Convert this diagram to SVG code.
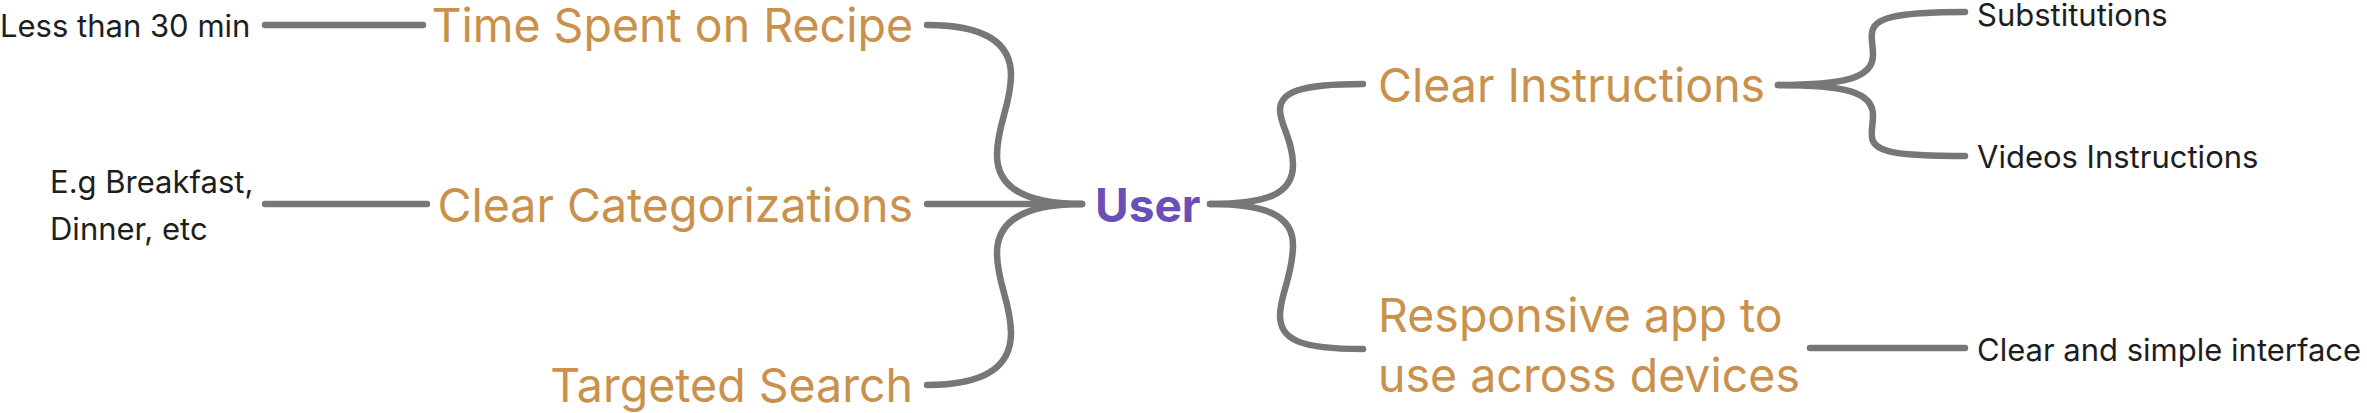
<svg xmlns="http://www.w3.org/2000/svg" width="2367" height="413" viewBox="0 0 2367 413">
<style>
.bg{fill:#ffffff}
.c{fill:none;stroke:#777777;stroke-width:6.5;stroke-linecap:round;stroke-linejoin:round}
.lbl{font-family:Inter,"Liberation Sans",sans-serif;font-size:31px;fill:#1e1e1e}
.mid{font-family:Inter,"Liberation Sans",sans-serif;font-size:46.5px;fill:#c9914b}
.root{font-family:Inter,"Liberation Sans",sans-serif;font-size:46px;font-weight:700;fill:#6a4fb8}
</style>
<rect class="bg" x="0" y="0" width="2367" height="413"/>
<g id="connectors">
<path class="c" d="M265,25 L423,25"/>
<path class="c" d="M265,204 L427,204"/>
<path class="c" d="M927,25 C980,25 1011,40 1011,75 C1011,105 997,125 997,155 C997,190 1030,204 1082,204"/>
<path class="c" d="M927,204 L1082,204"/>
<path class="c" d="M927,385 C980,385 1011,370 1011,333 C1011,303 997,283 997,253 C997,218 1030,204 1082,204"/>
<path class="c" d="M1210,204 C1265,204 1293,195 1293,165 C1293,140 1280,125 1280,110 C1280,92 1300,84 1363,84"/>
<path class="c" d="M1210,204 C1265,204 1293,215 1293,245 C1293,275 1280,295 1280,315 C1280,340 1300,349 1363,349"/>
<path class="c" d="M1778,85 C1845,85 1873,78 1873,55 C1873,45 1871,40 1872,33 C1873,18 1895,12 1965,12"/>
<path class="c" d="M1778,85 C1845,85 1873,92 1873,115 C1873,125 1871,130 1872,137 C1873,152 1895,156 1965,156"/>
<path class="c" d="M1810,348 L1965,348"/>
</g>
<g id="n-less30"><text class="lbl" x="0" y="37">Less than 30 min</text></g>
<g id="n-breakfast"><text class="lbl" x="50" y="193">E.g Breakfast,</text><text class="lbl" x="50" y="240">Dinner, etc</text></g>
<g id="n-time"><text class="mid" x="913" y="42" text-anchor="end">Time Spent on Recipe</text></g>
<g id="n-categ"><text class="mid" x="913" y="222" text-anchor="end">Clear Categorizations</text></g>
<g id="n-search"><text class="mid" x="913" y="402" text-anchor="end">Targeted Search</text></g>
<g id="n-user"><text class="root" x="1095" y="222">User</text></g>
<g id="n-instr"><text class="mid" x="1378" y="102">Clear Instructions</text></g>
<g id="n-resp"><text class="mid" x="1378" y="332">Responsive app to</text><text class="mid" x="1378" y="392">use across devices</text></g>
<g id="n-subst"><text class="lbl" x="1977" y="26">Substitutions</text></g>
<g id="n-videos"><text class="lbl" x="1977" y="168">Videos Instructions</text></g>
<g id="n-iface"><text class="lbl" x="1977" y="361">Clear and simple interface</text></g>
</svg>
